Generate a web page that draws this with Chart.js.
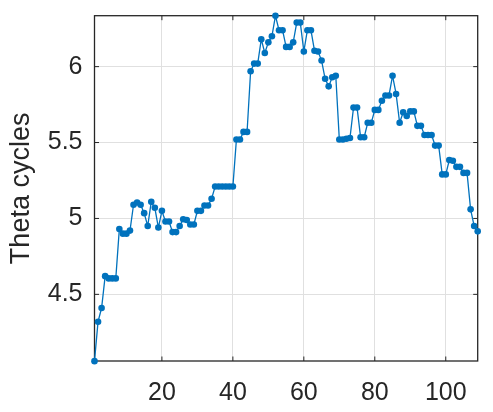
<!DOCTYPE html>
<html>
<head>
<meta charset="utf-8">
<script src="https://cdn.jsdelivr.net/npm/chart.js@4.4.1/dist/chart.umd.min.js"></script>
<style>
html,body{margin:0;padding:0;background:#fff;}
#wrap{width:493px;height:412px;}
</style>
</head>
<body>
<div id="wrap"><canvas id="c" width="493" height="412"></canvas></div>
<script>
const trialIndex = Array.from({length:109},(_,i)=>i+1);
const thetaCycles = [
4.06,4.32,4.41,4.62,4.605,4.605,4.605,4.93,4.90,4.90,
4.92,5.09,5.105,5.09,5.035,4.95,5.11,5.07,4.94,5.05,
4.98,4.98,4.91,4.91,4.95,4.995,4.99,4.96,4.96,5.05,
5.05,5.085,5.085,5.13,5.21,5.21,5.21,5.21,5.21,5.21,
5.52,5.52,5.57,5.57,5.97,6.02,6.02,6.18,6.09,6.16,
6.20,6.335,6.24,6.24,6.13,6.13,6.16,6.29,6.29,6.10,
6.24,6.24,6.105,6.10,6.04,5.92,5.87,5.93,5.94,5.52,
5.52,5.525,5.53,5.73,5.73,5.535,5.535,5.63,5.63,5.715,
5.715,5.775,5.81,5.81,5.94,5.82,5.63,5.70,5.675,5.705,
5.705,5.61,5.61,5.55,5.55,5.55,5.48,5.48,5.29,5.29,
5.385,5.38,5.34,5.34,5.30,5.30,5.06,4.95,4.915
];
const xTicks = [20,40,60,80,100];
const yTicks = [4.5,5,5.5,6];
const yLabel = 'Theta cycles';

const axisColor = '#262626';
const gridColor = '#e0e0e0';
const lineColor = '#0072BD';
const FONT = 'Liberation Sans, Arial, Helvetica, sans-serif';

const boxPlugin = {
  id:'box',
  beforeDatasetsDraw(chart){
    const {ctx, chartArea:a, scales:{x,y}} = chart;
    ctx.save();
    ctx.strokeStyle = axisColor;
    ctx.lineWidth = 1.3;
    ctx.strokeRect(a.left, a.top, a.right-a.left, a.bottom-a.top);
    const tl = 4.5;
    ctx.lineWidth = 1;
    ctx.beginPath();
    x.ticks.forEach(t=>{
      const px = x.getPixelForValue(t.value);
      ctx.moveTo(px, a.bottom); ctx.lineTo(px, a.bottom - tl);
      ctx.moveTo(px, a.top); ctx.lineTo(px, a.top + tl);
    });
    y.ticks.forEach(t=>{
      const py = y.getPixelForValue(t.value);
      ctx.moveTo(a.left, py); ctx.lineTo(a.left + tl, py);
      ctx.moveTo(a.right, py); ctx.lineTo(a.right - tl, py);
    });
    ctx.stroke();
    ctx.restore();
  }
};

new Chart(document.getElementById('c'), {
  type:'line',
  data:{
    labels: trialIndex,
    datasets:[{
      data: trialIndex.map((v,i)=>({x:v, y:thetaCycles[i]})),
      borderColor: lineColor,
      backgroundColor: lineColor,
      borderWidth: 1.3,
      pointRadius: 3.3,
      pointBorderWidth: 0,
      pointBackgroundColor: lineColor,
      tension: 0,
      clip: false
    }]
  },
  options:{
    responsive:false,
    animation:false,
    devicePixelRatio:1,
    layout:{padding:{left:0, right:15.3, top:15.7, bottom:0}},
    plugins:{legend:{display:false}, tooltip:{enabled:false}},
    scales:{
      x:{
        type:'linear', min:1, max:109,
        afterBuildTicks(s){ s.ticks = xTicks.map(v=>({value:v})); },
        afterFit(s){ s.height = 51; s.paddingLeft = 0; s.paddingRight = 0; },
        grid:{color:gridColor, drawTicks:false, lineWidth:1},
        border:{display:false},
        ticks:{color:axisColor, font:{family:FONT, size:25}, padding:17, maxRotation:0, autoSkip:false}
      },
      y:{
        type:'linear', min:4.061, max:6.3355,
        afterBuildTicks(s){ s.ticks = yTicks.map(v=>({value:v})); },
        afterFit(s){ s.width = 94.5; s.paddingTop = 0; s.paddingBottom = 0; },
        grid:{color:gridColor, drawTicks:false, lineWidth:1},
        border:{display:false},
        ticks:{color:axisColor, font:{family:FONT, size:25}, padding:12, autoSkip:false,
               callback:(v)=>String(v)},
        title:{display:true, text:yLabel, color:axisColor, font:{family:FONT, size:27}, padding:{top:5, bottom:0}}
      }
    }
  },
  plugins:[boxPlugin]
});
</script>
</body>
</html>
